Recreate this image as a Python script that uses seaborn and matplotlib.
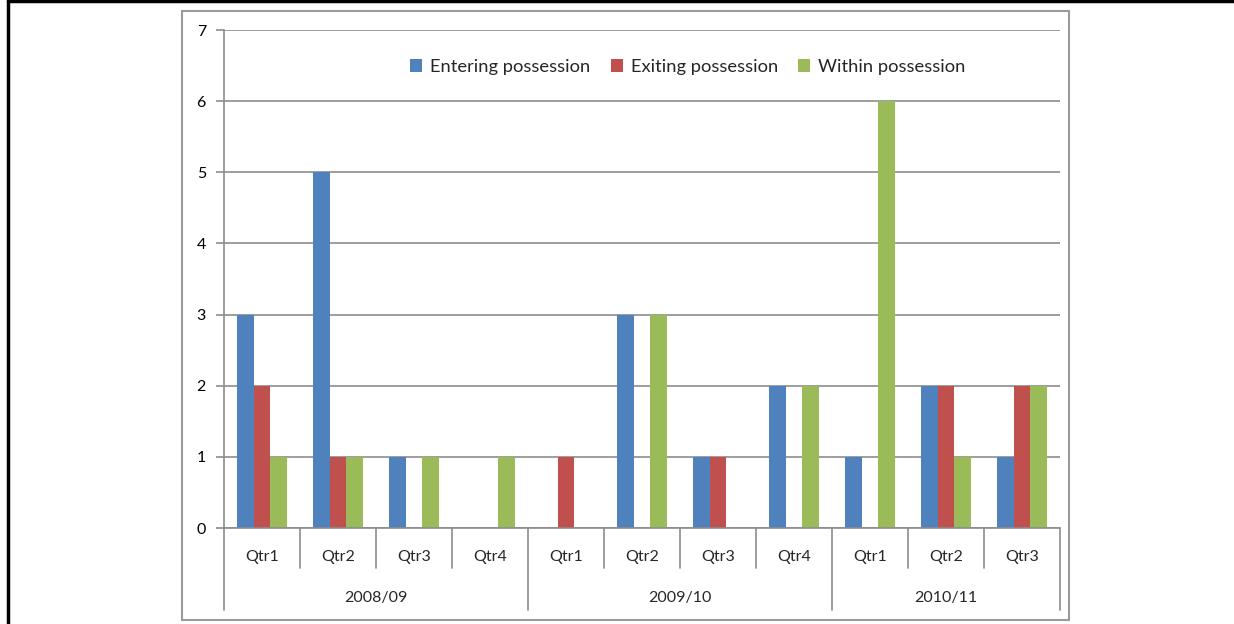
import matplotlib
matplotlib.use("Agg")
import matplotlib.pyplot as plt
import matplotlib.transforms as mtransforms
from matplotlib.lines import Line2D
from matplotlib.patches import Rectangle, Patch
import seaborn as sns
import pandas as pd

years = ["2008/09", "2009/10", "2010/11"]
quarters = [["Qtr1", "Qtr2", "Qtr3", "Qtr4"],
            ["Qtr1", "Qtr2", "Qtr3", "Qtr4"],
            ["Qtr1", "Qtr2", "Qtr3"]]
series = ["Entering possession", "Exiting possession", "Within possession"]
entering = [3, 5, 1, 0, 0, 3, 1, 2, 1, 2, 1]
exiting = [2, 1, 0, 0, 1, 0, 1, 0, 0, 2, 2]
within = [1, 1, 1, 1, 0, 3, 0, 2, 6, 1, 2]
colors = ["#4F81BD", "#C0504D", "#9BBB59"]

sns.set_style("white")
plt.rcParams['font.family'] = ['Lato', 'DejaVu Sans']

cats = []
for y, qs in zip(years, quarters):
    for q in qs:
        cats.append(f"{y} {q}")
rows = []
for name, vals in zip(series, [entering, exiting, within]):
    for c, v in zip(cats, vals):
        rows.append({"cat": c, "series": name, "value": v})
df = pd.DataFrame(rows)

fig = plt.figure(figsize=(12.34, 6.24), dpi=100)
W, H = 1234, 624
ax = fig.add_axes([224 / W, 1 - 528 / H, (1060 - 224) / W, (528 - 30) / H])

sns.barplot(data=df, x="cat", y="value", hue="series", order=cats,
            hue_order=series, palette=colors, width=0.67, ax=ax,
            saturation=1, legend=False, linewidth=0)

n = len(cats)
ax.set_xlim(-0.5, n - 0.5)
ax.set_ylim(0, 7)
ax.set_yticks(range(0, 8))
ax.set_yticklabels([str(i) for i in range(0, 8)], fontsize=11.5, color="#000000")
ax.yaxis.grid(True, color="#8c8c8c", linewidth=1.2)
ax.set_axisbelow(True)
for s in ["top", "right", "bottom"]:
    ax.spines[s].set_visible(False)
ax.spines["left"].set_color("#8c8c8c")
ax.spines["left"].set_linewidth(1.2)
ax.tick_params(axis="y", length=6, color="#8c8c8c", width=1.2, pad=7, left=True)
ax.set_xticks([])
ax.set_xlabel("")
ax.set_ylabel("")

trans = mtransforms.blended_transform_factory(ax.transData, ax.transAxes)
# x-axis baseline
ax.add_line(Line2D([-0.5, n - 0.5], [0, 0], transform=trans, color="#8c8c8c",
                   lw=1.2, clip_on=False))
qlab_y = -(557 - 528) / 498
ylab_y = -(598 - 528) / 498
qdiv = -(568 - 528) / 498
ydiv = -(610 - 528) / 498
idx = 0
bounds = [-0.5]
for y, qs in zip(years, quarters):
    start = idx
    for q in qs:
        ax.text(idx, qlab_y, q, transform=trans, ha="center", va="center",
                fontsize=11.5)
        idx += 1
    ax.text((start + idx - 1) / 2, ylab_y, y, transform=trans, ha="center",
            va="center", fontsize=11.5)
    bounds.append(idx - 0.5)
for k in range(n + 1):
    x = k - 0.5
    bottom = ydiv if x in bounds else qdiv
    ax.add_line(Line2D([x, x], [0, bottom], transform=trans, color="#8c8c8c",
                       lw=1.2, clip_on=False))

handles = [Patch(facecolor=c, edgecolor="none") for c in colors]
ax.legend(handles, series, loc="center", bbox_to_anchor=(688 / W, 1 - 67 / H),
          bbox_transform=fig.transFigure, ncol=3, frameon=False, fontsize=13.2,
          handlelength=0.65, handleheight=0.65, handletextpad=0.45,
          columnspacing=1.1)

# chart frame (gray) and outer black border
fig.add_artist(Rectangle((182 / W, 1 - 620 / H), (1069 - 182) / W, (620 - 11) / H,
                         transform=fig.transFigure, fill=False,
                         edgecolor="#9a9a9a", lw=1.5))
fig.add_artist(Line2D([8 / W, 8 / W], [0, 1], transform=fig.transFigure,
                      color="black", lw=2.5))
fig.add_artist(Line2D([8 / W, 1], [1 - 1 / H, 1 - 1 / H], transform=fig.transFigure,
                      color="black", lw=2.5))

fig.savefig("out.png", dpi=100)
